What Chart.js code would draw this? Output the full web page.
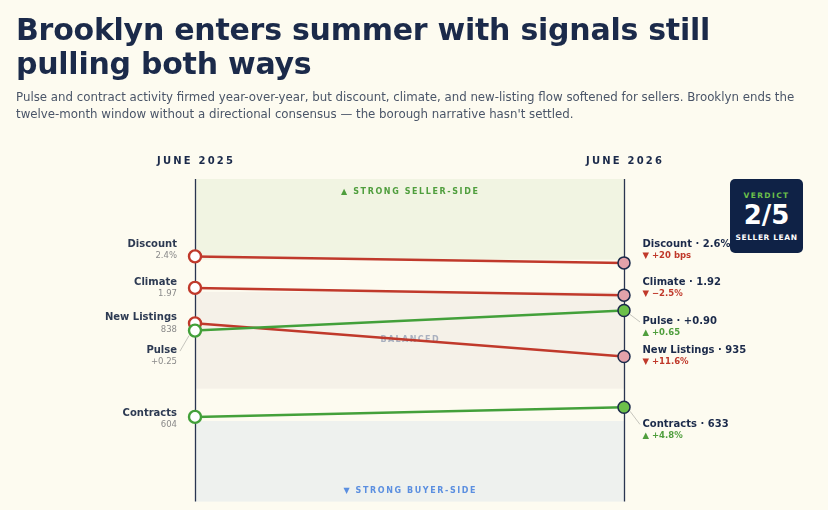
<!DOCTYPE html>
<html>
<head>
<meta charset="utf-8">
<script src="https://cdn.jsdelivr.net/npm/chart.js@4.4.1/dist/chart.umd.min.js"></script>
<style>
  html, body { margin:0; padding:0; background:#fdfbf0; }
  body { width:828px; height:510px; position:relative; overflow:hidden; font-family:"DejaVu Sans", sans-serif; }
  #title { position:absolute; left:16px; top:13px; font-size:30px; font-weight:bold; color:#1b2a4a; line-height:34px; letter-spacing:-0.25px; white-space:nowrap; }
  #sub { position:absolute; left:16px; top:89px; font-size:11.8px; color:#4a5568; line-height:16.5px; white-space:nowrap; }
  #chartwrap { position:absolute; left:0; top:0; width:828px; height:510px; }
  #verdict { position:absolute; left:730px; top:179px; width:73px; height:74px; background:#0f2246; border-radius:5px; color:#fff; text-align:center; }
  #verdict .k { font-size:7.5px; font-weight:bold; color:#6cc04a; letter-spacing:1.4px; margin-top:12px; }
  #verdict .v { font-size:26px; font-weight:bold; line-height:26px; margin-top:2px; }
  #verdict .s { font-size:7.5px; font-weight:bold; letter-spacing:0.6px; margin-top:5px; }
</style>
</head>
<body>
<div id="chartwrap"><canvas id="c" width="828" height="510"></canvas></div>
<div id="title">Brooklyn enters summer with signals still<br>pulling both ways</div>
<div id="sub">Pulse and contract activity firmed year-over-year, but discount, climate, and new-listing flow softened for sellers. Brooklyn ends the<br>twelve-month window without a directional consensus — the borough narrative hasn't settled.</div>
<div id="verdict"><div class="k">VERDICT</div><div class="v" id="vscore"></div><div class="s" id="vlabel"></div></div>
<script>
// ---- data ----
const periods = ["JUNE 2025", "JUNE 2026"];
const metrics = ["Discount", "Climate", "New Listings", "Pulse", "Contracts"];
const startValues = ["2.4%", "1.97", "838", "+0.25", "604"];
const endValues = ["2.6%", "1.92", "935", "+0.90", "633"];
const changes = ["+20 bps", "\u22122.5%", "+11.6%", "+0.65", "+4.8%"];
const sellerFavorable = [false, false, false, true, true];
// position on the seller/buyer signal scale (+2 strong seller … −2 strong buyer)
const scoreStart = [1.04, 0.65, 0.21, 0.12, -0.95];
const scoreEnd = [0.96, 0.56, -0.20, 0.37, -0.83];
const bandEdges = { sellerFrom: 1.0, balancedHigh: 0.6, balancedLow: -0.6, buyerTo: -1.0 };
const verdictScore = "2/5";
const verdictLabel = "SELLER LEAN";

document.getElementById('vscore').textContent = verdictScore;
document.getElementById('vlabel').textContent = verdictLabel;

// ---- styling / layout (not data) ----
const RED = "#c0392b", GREEN = "#43a03a", NAVY = "#1b2a4a";
const END_FILL = { red: "#e3a2aa", green: "#6cc04a" };
const leftOffsets = [-6.8, 0, 0, 25.5, 2.2];
const rightOffsets = [-13.2, -7.1, -0.5, 16.5, 22.2];

const datasets = metrics.map((m, i) => {
  const col = sellerFavorable[i] ? GREEN : RED;
  return {
    label: m,
    data: [{ x: 0, y: scoreStart[i] }, { x: 1, y: scoreEnd[i] }],
    borderColor: col,
    borderWidth: 2.5,
    pointRadius: 6,
    pointHoverRadius: 6,
    pointBackgroundColor: ["#ffffff", sellerFavorable[i] ? END_FILL.green : END_FILL.red],
    pointBorderColor: [col, NAVY],
    pointBorderWidth: [2.4, 1.5],
    clip: false,
    tension: 0,
    order: sellerFavorable[i] ? 0 : 1
  };
});

function spacedText(ctx, text, x, y, spacing, align) {
  const chars = [...text];
  const widths = chars.map(ch => ctx.measureText(ch).width);
  const total = widths.reduce((a, b) => a + b, 0) + spacing * (chars.length - 1);
  let cx = align === 'center' ? x - total / 2 : (align === 'right' ? x - total : x);
  ctx.textAlign = 'left';
  chars.forEach((ch, i) => { ctx.fillText(ch, cx, y); cx += widths[i] + spacing; });
}

const slopePlugin = {
  id: 'slope',
  beforeDatasetsDraw(chart) {
    const { ctx, chartArea: a, scales: { x, y } } = chart;
    ctx.save();
    const band = (hi, lo, color) => {
      const t = y.getPixelForValue(hi), b = y.getPixelForValue(lo);
      ctx.fillStyle = color;
      ctx.fillRect(a.left, t, a.right - a.left, b - t);
    };
    band(y.max, bandEdges.sellerFrom, "#f1f4e2");
    band(bandEdges.balancedHigh, bandEdges.balancedLow, "#f5f1e8");
    band(bandEdges.buyerTo, y.min, "#eef1ee");
    ctx.textBaseline = 'middle';
    ctx.font = "bold 8px 'DejaVu Sans'";
    ctx.fillStyle = "#4f9e3d";
    const cx = (a.left + a.right) / 2;
    spacedText(ctx, "\u25B2 STRONG SELLER-SIDE", cx, a.top + 13, 1.6, 'center');
    ctx.fillStyle = "#5b8fe0";
    spacedText(ctx, "\u25BC STRONG BUYER-SIDE", cx, a.bottom - 11, 1.6, 'center');
    ctx.fillStyle = "#a9b0bf";
    spacedText(ctx, "BALANCED", cx, y.getPixelForValue((bandEdges.balancedHigh + bandEdges.balancedLow) / 2), 1.4, 'center');
    ctx.strokeStyle = "#2a3550";
    ctx.lineWidth = 1.3;
    [0, 1].forEach(v => {
      const px = Math.round(x.getPixelForValue(v)) + 0.5;
      ctx.beginPath(); ctx.moveTo(px, a.top); ctx.lineTo(px, a.bottom); ctx.stroke();
    });
    ctx.fillStyle = NAVY;
    ctx.font = "bold 10px 'DejaVu Sans'";
    spacedText(ctx, periods[0], x.getPixelForValue(0), a.top - 18, 2.2, 'center');
    spacedText(ctx, periods[1], x.getPixelForValue(1), a.top - 18, 2.2, 'center');
    ctx.restore();
  },
  afterDatasetsDraw(chart) {
    const { ctx, scales: { x, y } } = chart;
    ctx.save();
    ctx.textBaseline = 'middle';
    const xl = x.getPixelForValue(0), xr = x.getPixelForValue(1);
    metrics.forEach((m, i) => {
      const py = y.getPixelForValue(scoreStart[i]);
      const ly = py + leftOffsets[i];
      if (Math.abs(leftOffsets[i]) > 15) {
        ctx.strokeStyle = "#b8b8b0"; ctx.lineWidth = 0.8;
        ctx.beginPath(); ctx.moveTo(xl - 6, py + 5); ctx.lineTo(xl - 15, ly - 5); ctx.stroke();
      }
      ctx.textAlign = 'right';
      ctx.fillStyle = "#2d3a52";
      ctx.font = "bold 10px 'DejaVu Sans'";
      ctx.fillText(m, xl - 18, ly - 5.5);
      ctx.fillStyle = "#8a8a8a";
      ctx.font = "8.5px 'DejaVu Sans'";
      ctx.fillText(startValues[i], xl - 18, ly + 6);
      const pr = y.getPixelForValue(scoreEnd[i]);
      const ry = pr + rightOffsets[i];
      if (Math.abs(rightOffsets[i]) > 15) {
        ctx.strokeStyle = "#b8b8b0"; ctx.lineWidth = 0.8;
        ctx.beginPath(); ctx.moveTo(xr + 6, pr + 4); ctx.lineTo(xr + 16, ry - 5); ctx.stroke();
      }
      ctx.textAlign = 'left';
      ctx.fillStyle = NAVY;
      ctx.font = "bold 10px 'DejaVu Sans'";
      ctx.fillText(m + " \u00B7 " + endValues[i], xr + 18.5, ry - 5.5);
      const fav = sellerFavorable[i];
      ctx.fillStyle = fav ? "#4f9e3d" : "#c0392b";
      ctx.font = "bold 8.5px 'DejaVu Sans'";
      ctx.fillText((fav ? "\u25B2 " : "\u25BC ") + changes[i], xr + 18.5, ry + 6);
    });
    ctx.restore();
  }
};

new Chart(document.getElementById('c'), {
  type: 'line',
  data: { datasets },
  options: {
    responsive: false,
    maintainAspectRatio: false,
    animation: false,
    events: [],
    layout: { padding: { left: 195, right: 204, top: 179, bottom: 7 } },
    plugins: { legend: { display: false }, tooltip: { enabled: false } },
    scales: {
      x: { type: 'linear', min: 0, max: 1, display: false },
      y: { type: 'linear', min: -2, max: 2, display: false }
    }
  },
  plugins: [slopePlugin]
});
</script>
</body>
</html>
